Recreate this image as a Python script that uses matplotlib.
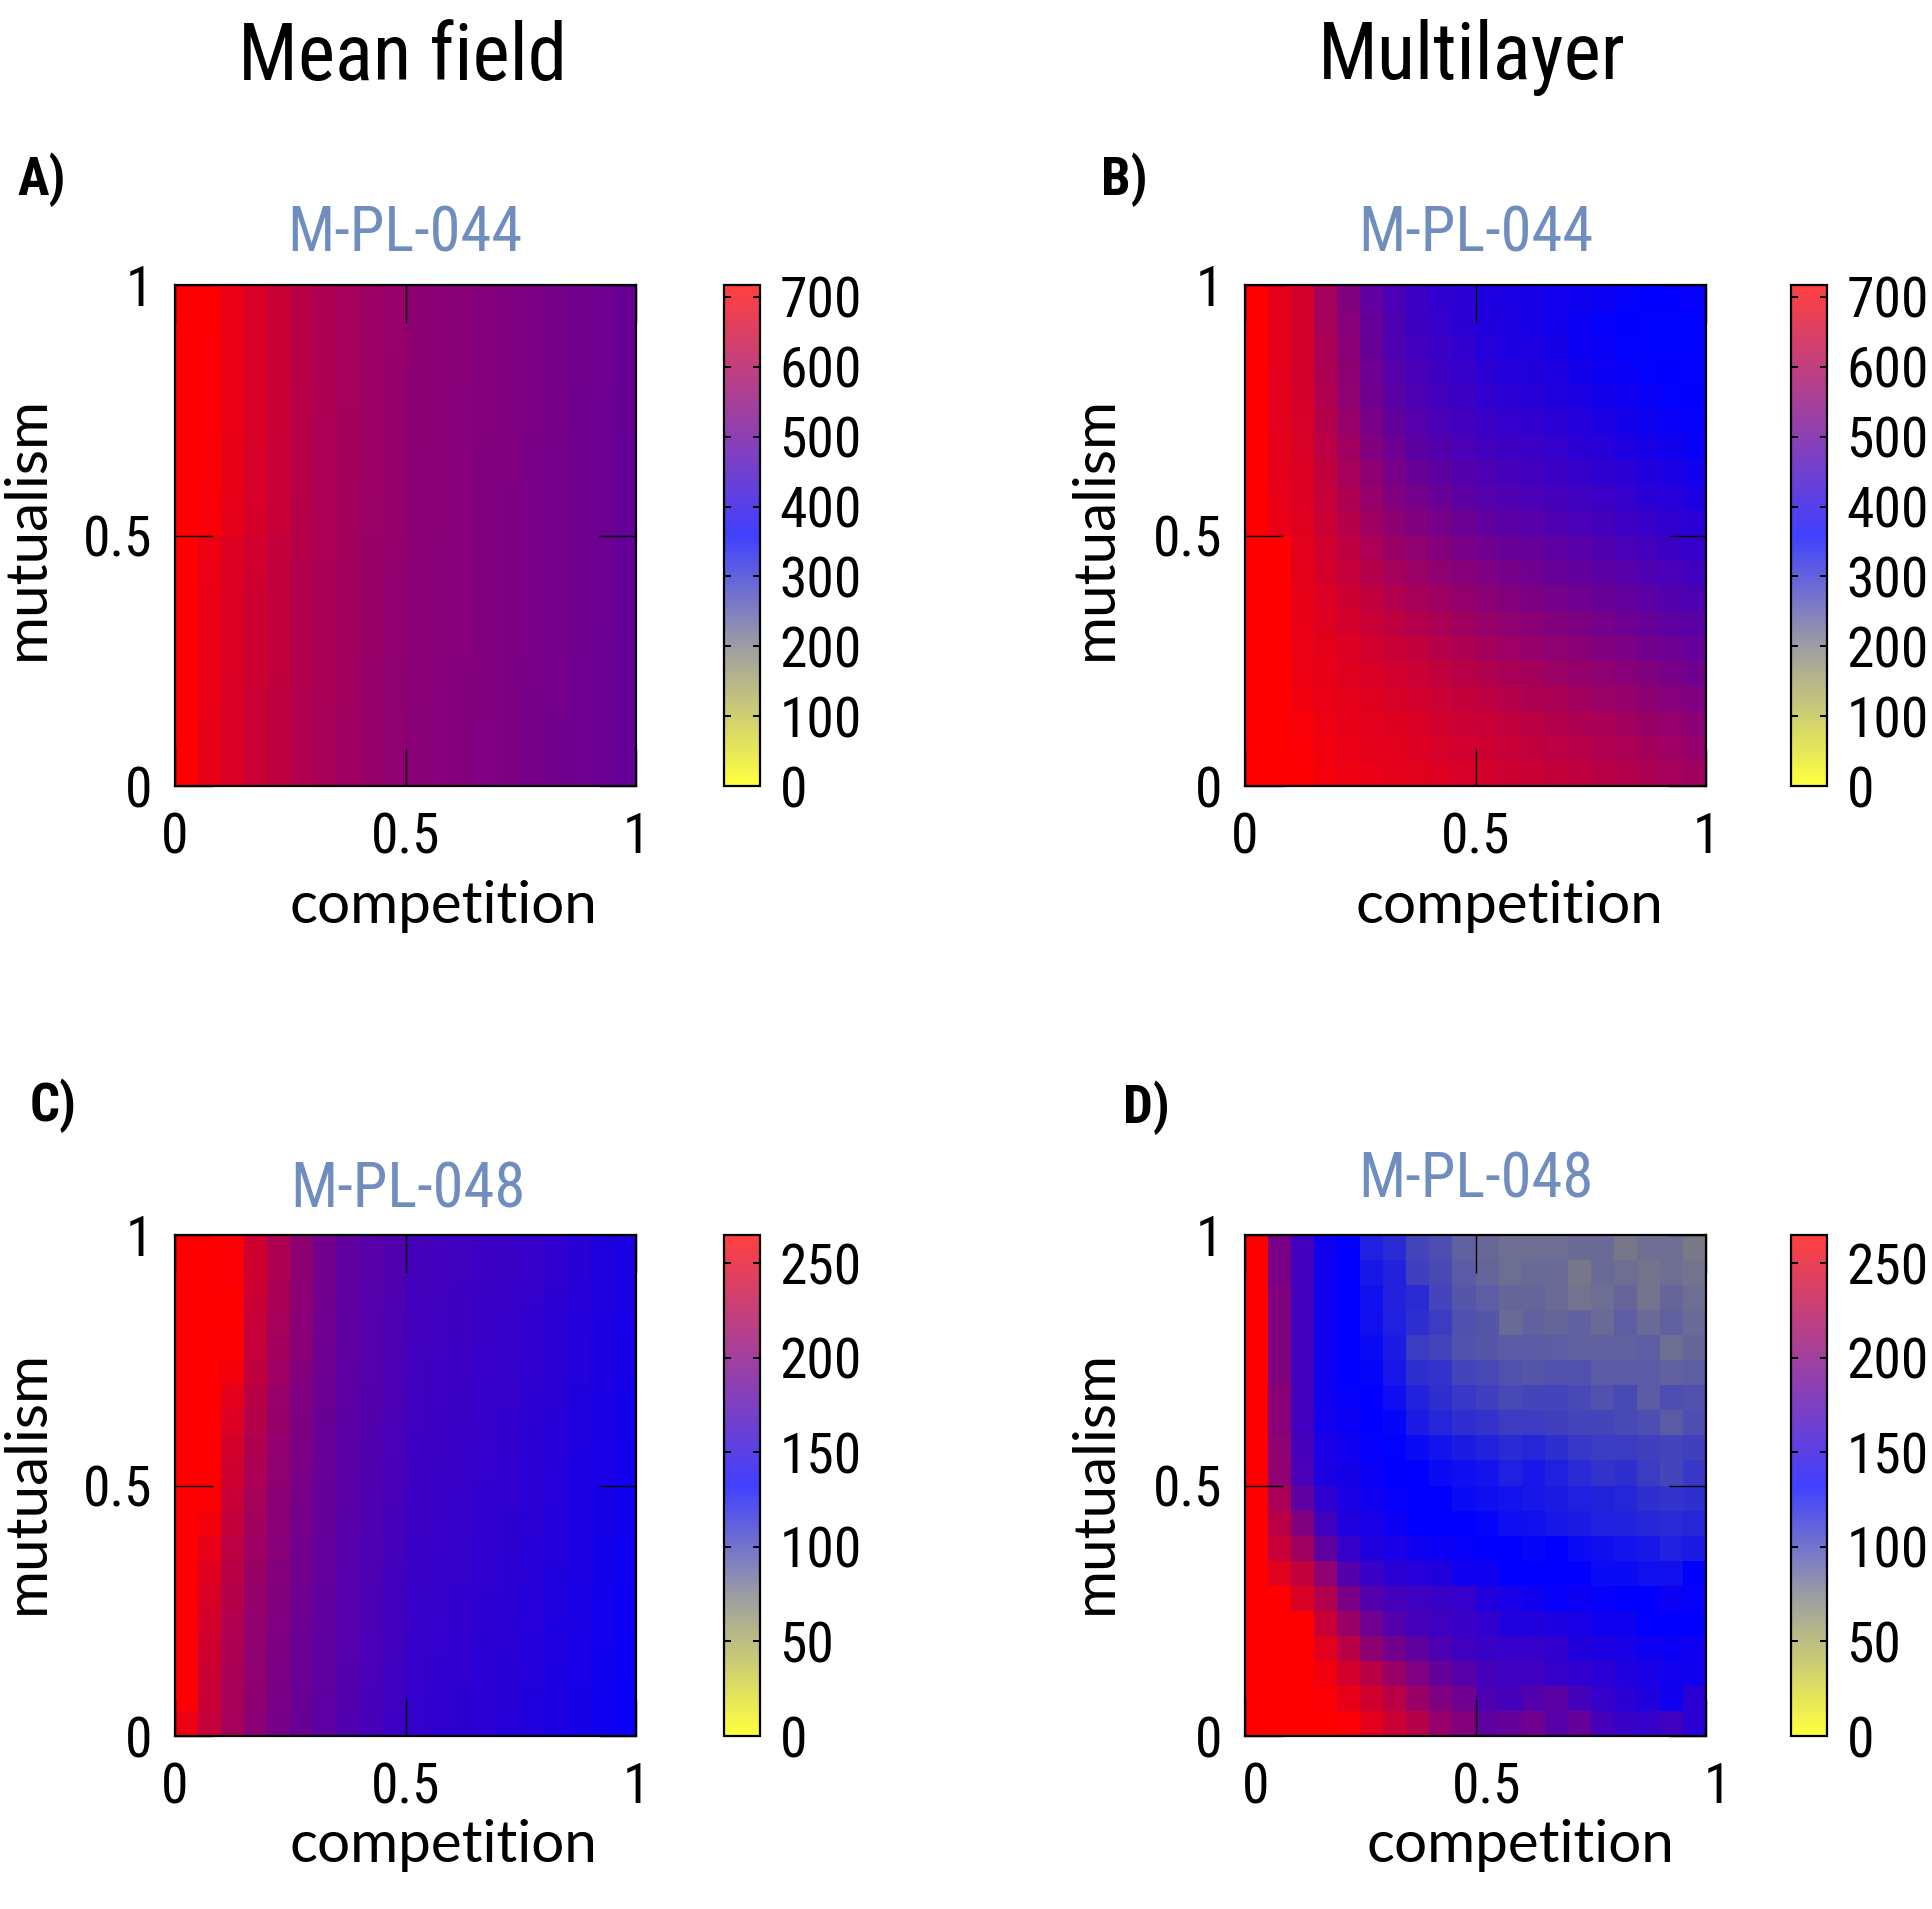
"""Coexistence maps: mean field vs multilayer for M-PL-044 and M-PL-048.

Four heatmaps (competition on x, mutualism on y), gnuplot-like palette
yellow -> grey -> blue -> red, one colorbar per panel.
"""
import numpy as np
import matplotlib
matplotlib.use("Agg")
import matplotlib.pyplot as plt
import matplotlib.transforms as mtransforms
from matplotlib import font_manager
from matplotlib.font_manager import FontProperties
from matplotlib.colors import LinearSegmentedColormap, Normalize
from matplotlib.cm import ScalarMappable

W, H = 1933, 1909
DPI = 100

# ---- data (rows listed top -> bottom, i.e. mutualism 1 -> 0) ----
COLUMN_TITLES = ["Mean field", "Multilayer"]
NETWORKS = ["M-PL-044", "M-PL-048"]
PANEL_LETTERS = ["A)", "B)", "C)", "D)"]
X_TICKS = [0, 0.5, 1]
X_TICKLABELS = ["0", "0.5", "1"]
CB_TICKS_044 = [0, 100, 200, 300, 400, 500, 600, 700]
CB_TICKS_048 = [0, 50, 100, 150, 200, 250]
CB_MAX_044 = 717
CB_MAX_048 = 265

MF_044 = [
    [717, 712, 686, 663, 641, 618, 601, 590, 579, 569, 556, 551, 547, 542, 536, 531, 525, 519, 513, 506],
    [717, 712, 686, 663, 641, 618, 601, 590, 579, 569, 556, 551, 547, 542, 536, 531, 525, 519, 513, 506],
    [717, 711, 685, 662, 640, 617, 600, 589, 578, 569, 555, 550, 547, 541, 536, 530, 524, 519, 513, 505],
    [717, 711, 685, 662, 640, 617, 600, 589, 578, 568, 555, 550, 547, 541, 536, 530, 524, 519, 513, 505],
    [717, 710, 684, 661, 639, 616, 600, 589, 578, 568, 555, 550, 546, 541, 535, 530, 524, 518, 512, 505],
    [717, 710, 684, 661, 639, 616, 599, 588, 577, 568, 555, 550, 546, 541, 535, 530, 524, 518, 512, 505],
    [717, 709, 683, 660, 638, 615, 599, 588, 577, 567, 554, 549, 546, 540, 535, 529, 523, 518, 511, 504],
    [717, 709, 683, 660, 638, 615, 599, 588, 577, 567, 554, 549, 546, 540, 535, 529, 523, 517, 511, 504],
    [717, 708, 682, 659, 637, 614, 598, 587, 576, 566, 554, 549, 545, 540, 534, 529, 523, 517, 511, 504],
    [717, 706, 680, 657, 636, 613, 598, 587, 576, 566, 554, 549, 545, 540, 534, 529, 523, 517, 510, 504],
    [717, 690, 668, 650, 632, 611, 597, 586, 574, 563, 553, 548, 545, 539, 534, 528, 522, 517, 510, 504],
    [717, 687, 666, 647, 630, 610, 596, 585, 573, 562, 553, 548, 544, 539, 533, 528, 522, 516, 510, 504],
    [717, 686, 665, 646, 629, 609, 595, 584, 572, 561, 553, 547, 544, 539, 533, 527, 522, 516, 510, 504],
    [717, 686, 665, 646, 629, 609, 595, 584, 572, 561, 553, 547, 544, 539, 533, 527, 522, 516, 510, 504],
    [717, 685, 664, 645, 628, 608, 595, 584, 572, 561, 552, 547, 544, 538, 533, 527, 521, 516, 509, 503],
    [717, 685, 664, 645, 628, 608, 594, 583, 571, 560, 552, 547, 543, 538, 532, 527, 521, 515, 509, 503],
    [717, 684, 663, 644, 627, 607, 594, 583, 571, 560, 552, 546, 543, 538, 532, 526, 521, 515, 509, 503],
    [717, 683, 662, 643, 626, 607, 593, 582, 570, 559, 551, 546, 543, 537, 532, 526, 520, 515, 508, 502],
    [717, 682, 662, 643, 626, 606, 593, 582, 570, 559, 551, 546, 542, 537, 531, 526, 520, 514, 508, 502],
    [715, 682, 661, 642, 625, 606, 592, 581, 569, 558, 551, 545, 542, 537, 531, 525, 520, 514, 508, 502],
]

ML_044 = [
    [717, 680, 655, 590, 540, 495, 460, 440, 425, 420, 400, 395, 392, 385, 380, 375, 365, 360, 360, 368],
    [717, 678, 655, 590, 545, 500, 465, 445, 430, 420, 405, 398, 392, 385, 375, 365, 360, 358, 358, 358],
    [717, 678, 655, 595, 550, 505, 470, 450, 438, 428, 410, 402, 398, 390, 378, 370, 362, 358, 358, 358],
    [717, 676, 655, 600, 555, 510, 478, 458, 445, 432, 418, 408, 405, 398, 388, 378, 370, 362, 360, 358],
    [717, 676, 658, 605, 560, 518, 485, 465, 452, 440, 428, 418, 412, 405, 398, 388, 380, 372, 362, 360],
    [717, 676, 660, 612, 570, 528, 498, 478, 462, 450, 438, 430, 425, 418, 408, 398, 388, 380, 370, 365],
    [717, 678, 662, 620, 580, 540, 510, 490, 475, 462, 452, 442, 438, 430, 420, 412, 400, 390, 382, 372],
    [717, 680, 665, 628, 590, 555, 525, 505, 490, 475, 465, 455, 450, 442, 432, 425, 415, 405, 395, 385],
    [717, 682, 668, 635, 600, 568, 540, 522, 505, 490, 478, 470, 462, 455, 448, 440, 430, 420, 410, 400],
    [717, 686, 670, 642, 612, 582, 555, 540, 522, 508, 495, 485, 478, 470, 462, 455, 445, 435, 425, 415],
    [717, 717, 675, 650, 625, 598, 572, 558, 542, 528, 515, 505, 496, 488, 480, 472, 462, 452, 442, 432],
    [717, 717, 680, 658, 635, 612, 590, 575, 560, 548, 535, 525, 515, 505, 498, 490, 480, 470, 460, 450],
    [717, 717, 682, 665, 645, 628, 608, 592, 578, 565, 552, 542, 532, 522, 515, 505, 496, 486, 476, 465],
    [717, 717, 685, 672, 655, 640, 625, 610, 596, 582, 570, 560, 550, 540, 532, 522, 512, 502, 492, 482],
    [717, 717, 688, 678, 665, 652, 640, 628, 612, 600, 588, 578, 568, 558, 550, 540, 530, 520, 510, 500],
    [717, 717, 690, 682, 672, 662, 652, 642, 630, 618, 606, 596, 586, 576, 568, 558, 548, 538, 528, 518],
    [717, 717, 695, 686, 678, 670, 662, 652, 642, 632, 622, 612, 602, 594, 585, 576, 566, 556, 546, 536],
    [717, 717, 705, 690, 682, 676, 670, 662, 652, 644, 636, 628, 620, 610, 602, 594, 584, 574, 564, 554],
    [717, 717, 710, 695, 686, 680, 675, 668, 660, 652, 645, 638, 630, 622, 615, 606, 598, 588, 578, 568],
    [717, 717, 712, 698, 690, 685, 680, 674, 668, 660, 654, 646, 640, 632, 625, 618, 610, 600, 590, 580],
]

MF_048 = [
    [265, 265, 262, 240, 222, 205, 192, 183, 178, 174, 168, 166, 165, 163, 162, 160, 157, 154, 150, 146],
    [265, 265, 262, 240, 222, 205, 192, 183, 178, 174, 168, 166, 165, 163, 162, 160, 157, 154, 150, 146],
    [265, 265, 265, 238, 220, 204, 191, 183, 177, 173, 167, 166, 164, 162, 161, 159, 156, 153, 150, 146],
    [265, 265, 265, 236, 218, 203, 190, 182, 177, 172, 167, 165, 164, 162, 160, 158, 155, 152, 149, 145],
    [265, 265, 263, 234, 216, 202, 189, 182, 176, 172, 166, 165, 163, 161, 160, 158, 155, 152, 148, 144],
    [265, 265, 258, 232, 214, 200, 189, 181, 176, 171, 166, 164, 163, 161, 159, 157, 154, 151, 147, 144],
    [265, 265, 250, 228, 211, 198, 188, 181, 175, 171, 165, 164, 162, 160, 159, 156, 154, 150, 146, 143],
    [265, 265, 246, 226, 210, 197, 187, 180, 175, 170, 165, 163, 162, 160, 158, 156, 153, 150, 146, 143],
    [265, 265, 242, 223, 208, 196, 187, 180, 174, 170, 164, 163, 161, 159, 158, 155, 153, 149, 145, 142],
    [265, 265, 240, 221, 206, 195, 186, 179, 174, 169, 164, 162, 161, 159, 157, 155, 152, 149, 145, 142],
    [265, 262, 236, 218, 204, 194, 185, 179, 173, 169, 163, 162, 160, 158, 157, 154, 152, 148, 144, 141],
    [265, 258, 233, 216, 203, 193, 185, 178, 173, 168, 163, 161, 160, 158, 156, 154, 151, 148, 144, 141],
    [265, 252, 230, 214, 202, 192, 184, 178, 172, 168, 162, 161, 159, 157, 156, 153, 151, 147, 143, 140],
    [265, 248, 228, 212, 200, 191, 184, 177, 172, 167, 162, 160, 159, 157, 155, 153, 150, 147, 143, 140],
    [265, 245, 226, 210, 199, 190, 183, 177, 171, 167, 161, 160, 158, 156, 155, 152, 150, 146, 142, 139],
    [265, 242, 224, 208, 198, 189, 183, 176, 171, 166, 161, 159, 158, 156, 154, 152, 149, 146, 142, 139],
    [265, 240, 222, 207, 197, 188, 182, 176, 170, 166, 160, 159, 157, 155, 154, 151, 149, 145, 141, 138],
    [265, 238, 220, 206, 196, 188, 182, 175, 170, 165, 160, 158, 157, 155, 153, 151, 148, 145, 141, 138],
    [263, 236, 219, 205, 195, 187, 181, 175, 169, 165, 159, 158, 156, 154, 153, 150, 148, 144, 140, 137],
    [255, 234, 218, 204, 194, 187, 181, 174, 169, 164, 159, 157, 156, 154, 152, 150, 147, 144, 140, 137],
]

ML_048 = [
    [265, 195, 166, 140, 133, 118, 112, 100, 96, 86, 83, 80, 80, 80, 82, 82, 76, 80, 80, 75],
    [265, 195, 166, 140, 133, 122, 116, 102, 98, 90, 84, 80, 82, 82, 76, 82, 80, 78, 80, 78],
    [265, 199, 166, 140, 133, 125, 116, 112, 100, 92, 88, 84, 84, 82, 78, 80, 84, 78, 84, 80],
    [265, 199, 166, 140, 133, 125, 118, 110, 104, 95, 92, 82, 86, 84, 86, 82, 88, 82, 86, 82],
    [265, 199, 166, 140, 133, 128, 120, 104, 100, 94, 92, 90, 90, 88, 86, 86, 86, 88, 80, 84],
    [265, 199, 166, 140, 133, 130, 122, 110, 108, 100, 98, 94, 92, 94, 94, 90, 90, 90, 86, 88],
    [265, 203, 166, 140, 135, 133, 126, 116, 110, 106, 102, 98, 100, 100, 98, 94, 98, 90, 96, 94],
    [265, 203, 166, 142, 138, 133, 130, 120, 114, 110, 108, 104, 104, 102, 100, 100, 98, 96, 90, 96],
    [265, 207, 168, 145, 140, 135, 132, 128, 124, 120, 116, 112, 114, 110, 106, 104, 104, 102, 100, 102],
    [265, 207, 170, 148, 143, 138, 133, 133, 128, 126, 124, 118, 122, 118, 112, 108, 110, 104, 100, 106],
    [265, 220, 182, 157, 146, 140, 136, 133, 133, 128, 126, 124, 122, 120, 118, 116, 114, 110, 108, 110],
    [265, 228, 199, 166, 150, 145, 138, 133, 133, 133, 130, 126, 125, 122, 120, 118, 116, 114, 112, 114],
    [265, 236, 215, 182, 160, 150, 145, 140, 138, 136, 133, 133, 130, 133, 128, 126, 124, 122, 118, 120],
    [265, 249, 232, 207, 175, 162, 155, 152, 150, 140, 140, 133, 133, 133, 133, 128, 128, 125, 125, 133],
    [265, 265, 245, 224, 195, 175, 168, 165, 162, 160, 150, 145, 140, 135, 138, 135, 133, 133, 138, 135],
    [265, 265, 265, 236, 212, 190, 175, 168, 165, 162, 158, 150, 150, 148, 145, 140, 140, 133, 133, 133],
    [265, 265, 265, 249, 228, 205, 192, 182, 172, 165, 162, 160, 160, 158, 150, 148, 145, 140, 138, 140],
    [265, 265, 265, 257, 242, 228, 212, 198, 185, 178, 168, 165, 165, 160, 158, 155, 150, 145, 142, 140],
    [265, 265, 265, 262, 252, 240, 228, 212, 198, 190, 172, 168, 175, 180, 168, 160, 155, 150, 140, 155],
    [265, 265, 265, 265, 262, 250, 238, 226, 210, 200, 182, 185, 190, 178, 185, 168, 162, 160, 165, 155],
]

# gnuplot-ish palette; colorbar drawn a bit washed out like the original
PALETTE = [(0.0, "#ffff00"), (0.27, "#808080"), (0.5, "#0000ff"), (1.0, "#ff0000")]
CMAP = LinearSegmentedColormap.from_list("gp", PALETTE)
CMAP_CB = LinearSegmentedColormap.from_list(
    "gp_cb", [(0.0, "#ffff40"), (0.27, "#a0a0a0"), (0.5, "#4040ff"), (1.0, "#ff4040")])
TITLE_BLUE = "#6f8dbf"

# layout in pixels: (axes left, top), colorbar left, x-label shift
PANELS = [
    {"data": MF_044, "net": NETWORKS[0], "cbmax": CB_MAX_044, "cbticks": CB_TICKS_044,
     "ax": (175, 285), "cb": 724, "letter": (17, 180), "sub": (405, 234),
     "xl": (443, 906), "yl": (27, 528), "xshift": 0},
    {"data": ML_044, "net": NETWORKS[0], "cbmax": CB_MAX_044, "cbticks": CB_TICKS_044,
     "ax": (1245, 285), "cb": 1791, "letter": (1101, 180), "sub": (1476, 234),
     "xl": (1509, 906), "yl": (1095, 528), "xshift": 0},
    {"data": MF_048, "net": NETWORKS[1], "cbmax": CB_MAX_048, "cbticks": CB_TICKS_048,
     "ax": (175, 1235), "cb": 724, "letter": (30, 1106), "sub": (408, 1190),
     "xl": (443, 1845), "yl": (27, 1482), "xshift": 0},
    {"data": ML_048, "net": NETWORKS[1], "cbmax": CB_MAX_048, "cbticks": CB_TICKS_048,
     "ax": (1245, 1235), "cb": 1791, "letter": (1123, 1108), "sub": (1476, 1180),
     "xl": (1520, 1845), "yl": (1095, 1482), "xshift": 11},
]
AX_W, AX_H = 461, 501
CB_W = 36

NARROW_PREFS = ["liberation sans narrow", "roboto condensed", "noto sans condensed",
                "open sans condensed", "dejavu sans"]


def _weight(w):
    if isinstance(w, (int, float)):
        return int(w)
    return font_manager.weight_dict.get(w, 400)


def pick_narrow(target):
    """FontEntry of an installed condensed/narrow face, closest to target weight."""
    best = None
    for f in font_manager.fontManager.ttflist:
        nm = f.name.lower()
        st = str(f.stretch).lower()
        fn = f.fname.lower()
        cond = ("narrow" in nm or "condensed" in nm or "cond" in fn
                or "narrow" in fn or st in ("condensed", "semi-condensed"))
        if not cond or f.style != "normal":
            continue
        if "italic" in fn or "oblique" in fn:
            continue
        semi = 1 if ("semi" in nm or "semi" in fn or "semi" in st) else 0
        extra = 1 if ("extra" in nm or "extra" in fn or "ultra" in fn) else 0
        pref = next((i for i, p in enumerate(NARROW_PREFS) if nm.startswith(p)),
                    len(NARROW_PREFS))
        score = (abs(_weight(f.weight) - target) // 100, extra, semi, pref)
        if best is None or score < best[0]:
            best = (score, f)
    return best[1] if best else None


_reg = pick_narrow(400)
_bold = pick_narrow(700)
_names = {f.name for f in font_manager.fontManager.ttflist}
WIDE = next((n for n in ["Lato", "Open Sans", "Noto Sans"] if n in _names), "DejaVu Sans")


def nfont(size, bold=False):
    entry = _bold if bold else _reg
    if entry is not None:
        return FontProperties(fname=entry.fname, size=size)
    return FontProperties(family="Liberation Sans", size=size,
                          weight="bold" if bold else "normal")


def rect(left, top, w, h):
    return [left / W, 1 - (top + h) / H, w / W, h / H]


def ftext(fig, x, y, s, **kw):
    fig.text(x / W, 1 - y / H, s, **kw)


def draw_panel(fig, p, letter):
    ax = fig.add_axes(rect(p["ax"][0], p["ax"][1], AX_W, AX_H))
    data = np.flipud(np.array(p["data"], dtype=float))
    ny, nx = data.shape
    xe = np.linspace(0, 1, nx + 1)
    ye = np.linspace(0, 1, ny + 1)
    norm = Normalize(0, p["cbmax"])
    ax.pcolormesh(xe, ye, data, cmap=CMAP, norm=norm, shading="flat")
    ax.set_xlim(0, 1)
    ax.set_ylim(0, 1)
    ax.set_xticks(X_TICKS)
    ax.set_yticks(X_TICKS)
    ax.set_xticklabels(X_TICKLABELS, fontproperties=nfont(40))
    ax.set_yticklabels(X_TICKLABELS, fontproperties=nfont(40))
    ax.tick_params(axis="both", direction="in", top=True, right=True,
                   length=27, width=1.0, color="black")
    ax.tick_params(axis="x", pad=18)
    ax.tick_params(axis="y", pad=16)
    if p["xshift"]:
        off = mtransforms.ScaledTranslation(p["xshift"] / DPI, 0, fig.dpi_scale_trans)
        for lab in ax.get_xticklabels():
            lab.set_transform(lab.get_transform() + off)
    for sp in ax.spines.values():
        sp.set_linewidth(1.6)

    cax = fig.add_axes(rect(p["cb"], p["ax"][1], CB_W, AX_H))
    sm = ScalarMappable(norm=norm, cmap=CMAP_CB)
    cb = fig.colorbar(sm, cax=cax, ticks=p["cbticks"])
    cb.outline.set_linewidth(1.6)
    cax.tick_params(direction="in", left=True, right=True, length=5, width=1.4,
                    pad=14)
    for lab in cax.get_yticklabels():
        lab.set_fontproperties(nfont(40))

    ftext(fig, *p["letter"], letter, fontproperties=nfont(38, bold=True),
          ha="left", va="center")
    ftext(fig, *p["sub"], p["net"], fontproperties=nfont(45),
          color=TITLE_BLUE, ha="center", va="center")
    ftext(fig, *p["xl"], "competition", fontfamily=WIDE, fontsize=42,
          ha="center", va="center")
    ftext(fig, *p["yl"], "mutualism", fontfamily=WIDE, fontsize=42,
          ha="center", va="center", rotation=90)


def main():
    fig = plt.figure(figsize=(W / DPI, H / DPI), dpi=DPI)
    ftext(fig, 402, 58, COLUMN_TITLES[0], fontproperties=nfont(57),
          ha="center", va="center")
    ftext(fig, 1472, 58, COLUMN_TITLES[1], fontproperties=nfont(57),
          ha="center", va="center")
    for p, letter in zip(PANELS, PANEL_LETTERS):
        draw_panel(fig, p, letter)
    fig.savefig("out.png", dpi=DPI)
    plt.close(fig)


if __name__ == "__main__":
    main()
